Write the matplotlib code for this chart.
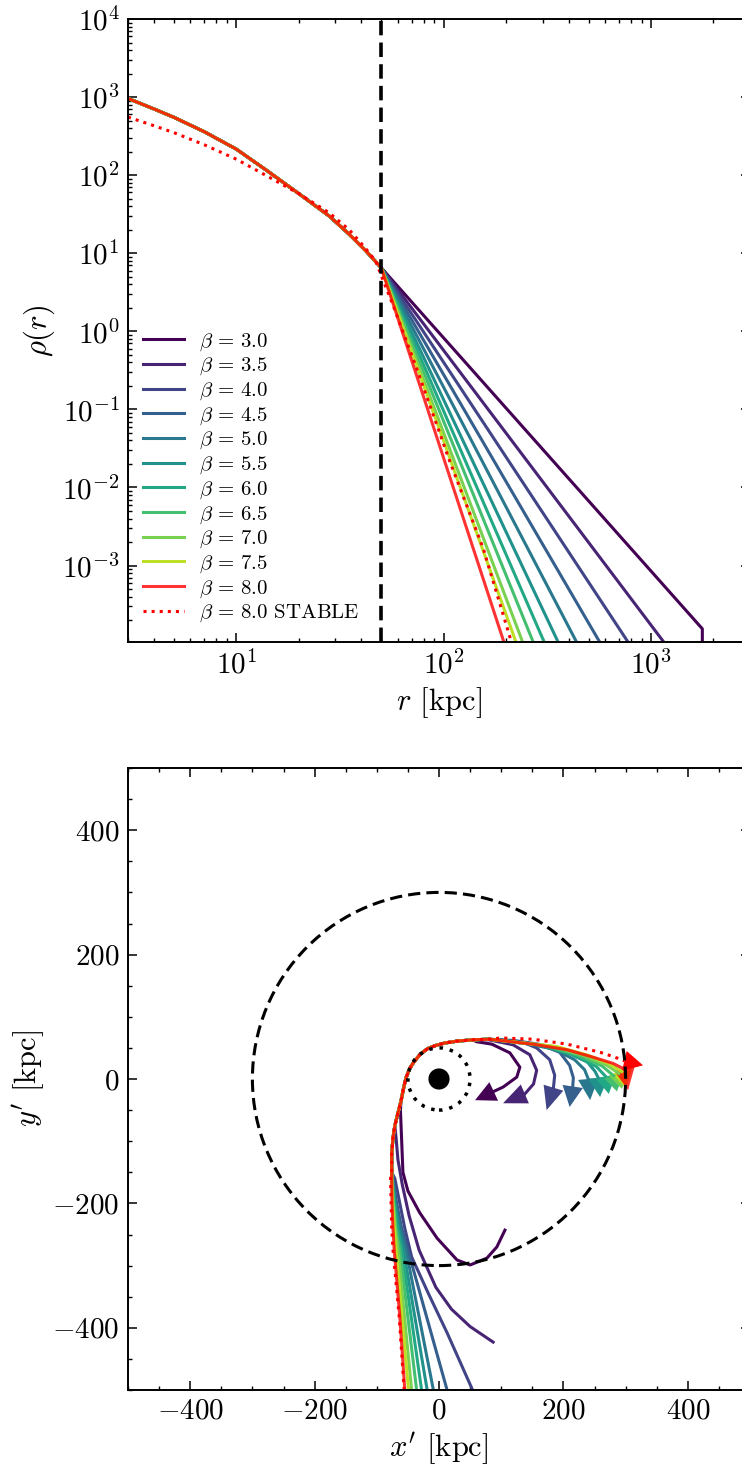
import numpy as np
import matplotlib.pyplot as plt
from matplotlib.patches import Circle
import matplotlib.ticker as ticker

# ==========================================
# Data
# ==========================================
BETAS = [3.0, 3.5, 4.0, 4.5, 5.0, 5.5, 6.0, 6.5, 7.0, 7.5, 8.0]
R_CUT = 50.0

# inner density profile, shared by every beta (r in kpc)
R_INNER = [3, 4, 5, 7, 10, 14, 20, 28, 35, 42, 50]
RHO_INNER = [960, 705, 550, 360, 215, 115, 58, 30, 17.5, 10.8, 6.5]

# where each power-law tail leaves the plot
R_TAIL = [[1767, 1767], [1151], [774], [565], [437], [356], [305], [270], [240], [223], [195]]
RHO_TAIL = [[1.55e-4, 1e-6], [1.05e-4], [1.05e-4], [1.05e-4], [1.05e-4], [1.05e-4],
            [1.05e-4], [1.05e-4], [1.05e-4], [1.05e-4], [1.05e-4]]

# stable profile (beta = 8)
R_STABLE = [3, 4, 5, 7, 10, 14, 20, 28, 35, 42, 47, 50.5, 57, 74, 107, 155, 212]
RHO_STABLE = [555, 430, 350, 245, 160, 98, 58, 33, 20, 11.5, 7.9, 4.8, 2.15, 0.336,
              0.0215, 1.66e-3, 1.05e-4]

# orbits in the (x', y') plane [kpc]
COMMON_X = [-76, -76, -74, -71, -66, -61, -57, -53, -47, -40, -30, -18, -5, 10, 30, 55, 80]
COMMON_Y = [-150, -120, -95, -75, -55, -35, -15, 2, 17, 28, 40, 49, 54, 58, 61, 63, 64]

HEAD_X = [
    [106, 93, 77, 50, 29, -3, -31, -50, -58, -60, -62],
    [87, 50, 20, -5, -32, -48, -59, -66, -69],
    [54, 13, -17, -44, -55, -63, -71],
    [13, -50, -60, -68, -74],
    [-9, -53, -62.5, -70, -75],
    [-19, -57, -65, -71, -75],
    [-28, -60, -67, -72, -75.5],
    [-36, -63, -69, -73, -75.5],
    [-44, -66, -70.5, -74, -76],
    [-49, -69, -72, -74.5, -76],
    [-55, -63, -72, -74, -75.5, -76],
    [-56, -64, -74, -76, -77, -78],
]
HEAD_Y = [
    [-243, -270, -288, -299, -291, -256, -215, -180, -150, -100, -50],
    [-423, -398, -370, -335, -275, -220, -170, -130, -95],
    [-500, -408, -345, -286, -240, -200, -160],
    [-500, -275, -240, -200, -160],
    [-500, -275, -240, -200, -160],
    [-500, -275, -240, -200, -160],
    [-500, -275, -240, -200, -160],
    [-500, -275, -240, -200, -160],
    [-500, -275, -240, -200, -160],
    [-500, -275, -240, -200, -160],
    [-500, -382, -275, -240, -200, -160],
    [-500, -382, -275, -240, -200, -160],
]
TAIL_X = [
    [60, 85, 114, 130, 125, 103, 88],
    [80, 119, 146, 157, 152, 138],
    [100, 135, 157, 178, 186, 184],
    [120, 160, 194, 210, 216, 215],
    [140, 185, 218, 234, 240],
    [150, 200, 238, 251, 256],
    [160, 212, 253, 268],
    [170, 222, 262, 281],
    [180, 232, 270, 289],
    [190, 240, 275, 294],
    [151, 206, 248, 280, 298],
    [100, 151, 206, 259, 283, 298],
]
TAIL_Y = [
    [60, 56, 42, 19, 3, -13, -20],
    [63, 55, 39, 14, -8, -24],
    [63, 59, 50, 31, 6, -14],
    [62, 56, 43, 22, 2, -12],
    [57, 48, 31, 15, 0],
    [56, 45, 28, 12, 2],
    [55, 40, 20, 4],
    [54, 39, 21, 5],
    [53, 38, 22, 9],
    [52, 38, 24, 12],
    [56, 47, 35, 25, 16],
    [66, 64, 56, 43, 35, 29],
]
TIP_X = [58, 103, 173, 210, 243, 259, 273, 286, 294, 300, 304, 328]
TIP_Y = [-34, -39, -50, -45, -34, -29, -24, -20, -16, -14, -18, 22]

R_OUTER = 300
R_INNER_CIRCLE = 50
R_HOST = 17

# ==========================================
# Style
# ==========================================
plt.rcParams.update({
    'font.family': 'serif',
    'font.serif': ['cmr10', 'DejaVu Serif'],
    'mathtext.fontset': 'cm',
    'axes.formatter.use_mathtext': True,
    'axes.linewidth': 1.4,
    'xtick.direction': 'in', 'ytick.direction': 'in',
    'xtick.top': True, 'ytick.right': True,
    'xtick.minor.visible': True, 'ytick.minor.visible': True,
    'xtick.major.size': 6.5, 'ytick.major.size': 6.5,
    'xtick.minor.size': 3.2, 'ytick.minor.size': 3.2,
    'xtick.major.width': 1.1, 'ytick.major.width': 1.1,
    'xtick.minor.width': 1.0, 'ytick.minor.width': 1.0,
    'xtick.labelsize': 21, 'ytick.labelsize': 21,
    'axes.labelsize': 22,
    'xtick.major.pad': 6, 'ytick.major.pad': 6,
})

colors = list(plt.cm.viridis(np.linspace(0, 0.9, 10))) + ['red']
alphas = [1.0] * 10 + [0.8]

fig = plt.figure(figsize=(7.42, 14.74), dpi=100)
ax1 = fig.add_axes([128 / 742, 1 - 642 / 1474, 622 / 742, 623 / 1474])
ax2 = fig.add_axes([128 / 742, 1 - 1390 / 1474, 622 / 742, 622 / 1474])

# --- top: density profiles ---
for i, beta in enumerate(BETAS):
    r = R_INNER + R_TAIL[i]
    rho = RHO_INNER + RHO_TAIL[i]
    ax1.plot(r, rho, color=colors[i], alpha=alphas[i], lw=2.2,
             label=rf'$\beta\,=\,{beta:.1f}$')
ax1.plot(R_STABLE, RHO_STABLE, color='red', ls=':', lw=2.2,
         label=r'$\beta\,=\,8.0$ STABLE')
ax1.axvline(R_CUT, color='k', ls=(0, (4, 2)), lw=2.6)

ax1.set_xscale('log')
ax1.set_yscale('log')
ax1.set_xlim(3, 3000)
ax1.set_ylim(1.05e-4, 1e4)
ax1.yaxis.set_major_locator(ticker.LogLocator(base=10, numticks=20))
ax1.yaxis.set_minor_locator(ticker.LogLocator(base=10, subs=np.arange(2, 10), numticks=100))
ax1.xaxis.set_minor_locator(ticker.LogLocator(base=10, subs=np.arange(2, 10), numticks=100))
ax1.yaxis.set_minor_formatter(ticker.NullFormatter())
ax1.xaxis.set_minor_formatter(ticker.NullFormatter())
ax1.set_xlabel(r'$r$ [kpc]')
ax1.set_ylabel(r'$\rho(r)$')
ax1.legend(loc='lower left', frameon=False, fontsize=15, handlelength=2.0,
           handletextpad=0.72, labelspacing=0.15, borderaxespad=0.3,
           bbox_to_anchor=(0.0, 0.005))

# --- bottom: orbits ---
for i in range(len(BETAS) + 1):
    hx, hy = HEAD_X[i], HEAD_Y[i]
    tx, ty = TAIL_X[i], TAIL_Y[i]
    mid = [(x, y) for x, y in zip(COMMON_X, COMMON_Y) if y > hy[-1] and x < tx[0]]
    xs = hx + [p[0] for p in mid] + tx
    ys = hy + [p[1] for p in mid] + ty
    if i < len(BETAS):
        c, a, ls = colors[i], alphas[i], '-'
    else:
        c, a, ls = 'red', 1.0, ':'
    ax2.plot(xs, ys, color=c, alpha=a, lw=2.2, ls=ls)
    ax2.arrow(xs[-1], ys[-1], TIP_X[i] - xs[-1], TIP_Y[i] - ys[-1],
              width=0, head_width=33,
              head_length=np.hypot(TIP_X[i] - xs[-1], TIP_Y[i] - ys[-1]),
              length_includes_head=True, color=c, alpha=a, lw=0)

ax2.add_patch(Circle((0, 0), R_OUTER, fill=False, ec='k', ls=(0, (4, 2)), lw=2.2, zorder=5))
ax2.add_patch(Circle((0, 0), R_INNER_CIRCLE, fill=False, ec='k', ls=(0, (1, 2)), lw=2.5, zorder=5))
ax2.add_patch(Circle((0, 0), R_HOST, fc='k', ec='none', zorder=6))

ax2.set_xlim(-500, 500)
ax2.set_ylim(-500, 500)
ax2.xaxis.set_major_locator(ticker.MultipleLocator(200))
ax2.yaxis.set_major_locator(ticker.MultipleLocator(200))
ax2.xaxis.set_minor_locator(ticker.MultipleLocator(50))
ax2.yaxis.set_minor_locator(ticker.MultipleLocator(50))
ax2.set_xlabel(r"$x'$ [kpc]")
ax2.set_ylabel(r"$y'$ [kpc]")

fig.savefig('out.png', dpi=100)
